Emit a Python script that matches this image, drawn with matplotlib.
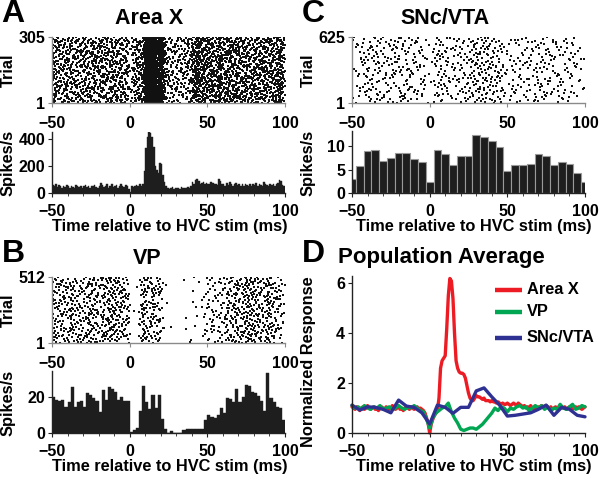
import numpy as np
import matplotlib
matplotlib.use('Agg')
import matplotlib.pyplot as plt
from matplotlib.lines import Line2D
from matplotlib.ticker import MultipleLocator

plt.rcParams['font.family'] = ['Liberation Sans', 'DejaVu Sans']
plt.rcParams['font.weight'] = 'bold'
plt.rcParams['axes.labelweight'] = 'bold'

# ---------------- data ----------------
# Panel A: Area X PSTH, 1 ms bins from -50 to 100 ms (spikes/s)
areax_rate = [
    60, 55, 65, 45, 60, 50, 40, 55, 45, 60,
    50, 35, 55, 45, 40, 60, 55, 45, 50, 40,
    55, 60, 45, 50, 40, 55, 50, 60, 45, 40,
    55, 75, 60, 45, 50, 65, 40, 55, 70, 45,
    50, 60, 40, 55, 65, 50, 45, 60, 55, 30,
    5, 50, 45, 55, 60, 50, 65, 55, 70,
    160, 330, 410, 450, 445, 410, 340, 200, 170, 150,
    220, 215, 130, 80, 55, 40, 30, 35, 45, 30,
    35, 40, 35, 30, 45, 35, 40, 35, 45, 40,
    50, 80, 65, 95, 100, 90, 70, 75, 80, 70,
    75, 65, 70, 80, 75, 65, 70, 60, 100, 90,
    65, 70, 55, 75, 60, 80, 70, 55, 65, 75,
    60, 70, 50, 65, 55, 70, 60, 50, 65, 55,
    70, 60, 75, 50, 65, 60, 55, 80, 70, 60,
    55, 65, 60, 70, 55, 65, 75, 95, 90, 60, 55,
]
areax_binw = 1
areax_trials = 305

# Panel B: VP PSTH, 2 ms bins from -50 to 100 ms
vp_rate = [
    20, 18.5, 18, 18.5, 14.5, 17, 25.5, 14.5, 17.5, 18,
    14.5, 22.5, 21, 19.5, 18, 11.5, 24, 18.5, 25.5, 24.5,
    23, 18.5, 20, 18, 18,
    0.5, 1.5, 3, 12, 26, 17, 13.5, 21, 14, 21, 8,
    2, 0, 1, 0, 0, 0, 1.5, 2, 2.5, 2.5, 2, 2, 2, 7,
    10, 9, 8.5, 10, 14, 11, 19.5, 19, 17.5, 24.5,
    17, 20, 26.5, 26, 23, 22, 20.5, 18, 12, 33.5,
    19.5, 17.5, 14.5, 14, 7,
]
vp_binw = 2
vp_trials = 512

# Panel C: SNc/VTA PSTH, 5 ms bins centred on -50 ... 100 ms
snc_rate = [3.0, 5.7, 8.9, 9.1, 6.9, 7.5, 8.6, 8.6, 7.2, 6.6,
            2.4, 9.1, 8.2, 6.0, 7.9, 7.9, 12.4, 12.0, 11.1, 9.9,
            4.7, 6.0, 6.0, 6.2, 8.2, 7.9, 6.0, 6.5, 6.2, 4.3, 2.3]
snc_binw = 5
snc_trials = 625

# Panel D: population average (normalized response)
pop_areax = [
    1.05, 1.0, 0.95, 1.05, 1.0, 0.9, 1.0, 1.05, 0.95, 1.0,
    1.1, 1.0, 0.95, 1.0, 1.05, 0.95, 1.0, 0.9, 1.0, 1.05,
    1.0, 0.95, 1.05, 1.0, 0.95, 1.0, 1.1, 1.0, 0.95, 1.0,
    1.05, 0.95, 1.0, 0.9, 1.0, 1.05, 1.0, 0.95, 1.05, 1.0,
    0.95, 1.0, 1.05, 0.95, 1.0, 0.95, 0.9, 0.8, 0.6, 0.4,
    0.0, 0.35, 0.55, 0.7, 0.8, 0.9, 1.4, 2.6, 2.9, 3.0,
    3.1, 4.2, 5.5, 6.2, 6.1, 5.4, 4.0, 2.9, 2.6, 2.45,
    2.4, 2.4, 2.35, 2.2, 1.9, 1.6, 1.4, 1.3, 1.3, 1.4,
    1.5, 1.45, 1.45, 1.4, 1.35, 1.4, 1.3, 1.3, 1.3, 1.25,
    1.3, 1.25, 1.25, 1.2, 1.25, 1.2, 1.15, 1.2, 1.15, 1.15,
    1.2, 1.15, 1.1, 1.15, 1.2, 1.15, 1.1, 1.2, 1.15, 1.1,
    1.05, 1.1, 1.0, 1.05, 1.0, 1.1, 1.0, 0.95, 1.05, 1.0,
    1.05, 1.0, 1.1, 1.05, 1.0, 1.1, 1.05, 1.0, 1.05, 0.95,
    1.0, 1.05, 1.0, 0.95, 1.0, 1.05, 1.0, 1.05, 0.95, 1.0,
    1.05, 1.0, 0.95, 1.0, 1.05, 1.0, 1.05, 1.0, 0.95, 1.0,
    1.05,
]
pop_areax_step = 1
pop_vp = [
    1.1, 1.0, 1.05, 0.95, 1.1, 1.0, 0.95, 1.05, 1.0, 1.1,
    0.95, 1.0, 1.05, 0.95, 1.0, 1.1, 1.0, 0.95, 1.05, 1.0,
    1.1, 1.0, 0.9, 0.85, 0.55,
    0.2, 0.6, 0.8, 0.9, 1.0, 1.05, 1.2, 0.85, 0.6, 0.4,
    0.15, 0.1, 0.15, 0.2, 0.2, 0.15, 0.25, 0.35, 0.5, 0.65,
    0.8, 1.0, 0.9, 1.05, 1.0, 0.85, 1.0, 0.95, 1.05, 1.1,
    1.0, 1.05, 0.9, 1.0, 1.1, 1.0, 1.1, 0.95, 1.05, 0.9,
    1.0, 0.95, 1.15, 1.0, 0.95, 1.05, 1.15, 0.95, 1.0, 1.1,
    1.05,
]
pop_vp_step = 2
pop_snc = [1.12, 0.92, 1.05, 1.03, 0.95, 0.81, 1.32, 1.08, 1.03, 0.81,
           0.36, 1.12, 1.03, 0.79, 1.03, 1.03, 1.69, 1.81, 1.45, 1.12,
           0.68, 0.71, 0.76, 0.81, 0.95, 1.12, 0.71, 1.03, 0.95, 0.71, 0.65]
pop_snc_step = 5

series_names = ['Area X', 'VP', 'SNc/VTA']
series_colors = ['#ed1c24', '#00a651', '#2e3192']

xticks = [-50, 0, 50, 100]
XMIN, XMAX = -50, 100

# ---------------- layout helpers ----------------
W, H = 600, 480
fig = plt.figure(figsize=(W / 100, H / 100), dpi=100)


def add_ax(l, t, r, b):
    return fig.add_axes([l / W, 1 - b / H, (r - l) / W, (b - t) / H])


def ftext(x, y, s, **kw):
    kw.setdefault('ha', 'center')
    kw.setdefault('va', 'center')
    return fig.text(x / W, 1 - y / H, s, **kw)


TICK_FS = 11.5
LBL_FS = 11.8


def style_axes(ax, spine_color, minor=True, xpad=5):
    for s in ('top', 'right'):
        ax.spines[s].set_visible(False)
    for s in ('left', 'bottom'):
        ax.spines[s].set_color(spine_color)
        ax.spines[s].set_linewidth(1.0)
    ax.tick_params(axis='both', which='major', direction='out', length=3,
                   width=0.8, color=spine_color, labelsize=TICK_FS, pad=2)
    ax.tick_params(axis='x', which='major', pad=xpad)
    ax.tick_params(axis='both', which='minor', direction='out', length=2,
                   width=0.6, color=spine_color)
    ax.set_xlim(XMIN, XMAX)
    ax.set_xticks(xticks)
    if minor:
        ax.xaxis.set_minor_locator(MultipleLocator(10))
    for lab in ax.get_xticklabels() + ax.get_yticklabels():
        lab.set_fontweight('bold')


def halton(k, base):
    f, r = 1.0, 0.0
    while k > 0:
        f /= base
        r += f * (k % base)
        k //= base
    return r


def raster_points(lefts, width, rates, ntrials):
    """Spike dots: low-discrepancy (Halton) points over the raster area,
    thinned so that the local density follows the PSTH (rate * bin * trials)."""
    lefts = np.asarray(lefts, float)
    rates = np.asarray(rates, float)
    rmax = rates.max()
    expected = (rates * width / 1000.0 * ntrials).sum()
    span = lefts[-1] + width - lefts[0]
    covered = len(rates) * width
    n_cand = int(expected * rmax / rates.mean() * span / covered)
    xs, ys = [], []
    for k in range(500, 500 + n_cand):
        x = lefts[0] + span * halton(k, 2)
        y = 1 + (ntrials - 1) * halton(k, 3)
        w = halton(k, 5)
        i = min(int((x - lefts[0]) // width), len(rates) - 1)
        if w * rmax < rates[i]:
            xs.append(x)
            ys.append(y)
    xs = np.array(xs)
    ys = np.array(ys)
    keep = (xs >= XMIN) & (xs <= XMAX)
    return xs[keep], ys[keep]


def raster(ax, lefts, width, rates, ntrials):
    xs, ys = raster_points(lefts, width, rates, ntrials)
    ax.scatter(xs, ys, s=0.65, marker='s', color='#111111', linewidths=0)
    style_axes(ax, '#8a8a8a', minor=False, xpad=6)
    ax.set_ylim(1, ntrials)
    ax.set_yticks([1, ntrials])


BAR_C = '#1e1e1e'

# ---------------- Panel A ----------------
a_lefts = np.arange(XMIN, XMAX, areax_binw)
axAr = add_ax(52, 37, 285, 103)
raster(axAr, a_lefts, areax_binw, areax_rate, areax_trials)
axAh = add_ax(52, 132, 285, 193)
axAh.bar(a_lefts, areax_rate, width=areax_binw, align='edge', color=BAR_C,
         edgecolor=BAR_C, linewidth=0.3)
style_axes(axAh, '#222222')
axAh.set_ylim(0, 450)
axAh.set_yticks([0, 200, 400])

# ---------------- Panel B ----------------
b_lefts = np.arange(XMIN, XMAX, vp_binw)
axBr = add_ax(52, 277, 285, 343)
raster(axBr, b_lefts, vp_binw, vp_rate, vp_trials)
axBh = add_ax(52, 371, 285, 433)
axBh.bar(b_lefts, vp_rate, width=vp_binw, align='edge', color=BAR_C,
         edgecolor=BAR_C, linewidth=0.3)
style_axes(axBh, '#222222')
axBh.set_ylim(0, 34.5)
axBh.set_yticks([0, 20])

# ---------------- Panel C ----------------
c_centers = np.arange(XMIN, XMAX + 1, snc_binw)
axCr = add_ax(352, 37, 585, 103)
raster(axCr, c_centers - snc_binw / 2, snc_binw, snc_rate, snc_trials)
axCh = add_ax(352, 131, 585, 193)
axCh.bar(c_centers, snc_rate, width=snc_binw, align='center', color=BAR_C,
         edgecolor='#9a9a9a', linewidth=0.8)
style_axes(axCh, '#222222')
axCh.set_ylim(0, 13.2)
axCh.set_yticks([0, 5, 10])

# ---------------- Panel D ----------------
axD = add_ax(352, 276, 585, 433)
pop_series = [pop_areax, pop_vp, pop_snc]
pop_steps = [pop_areax_step, pop_vp_step, pop_snc_step]
for vals, step, col in zip(pop_series, pop_steps, series_colors):
    t = XMIN + step * np.arange(len(vals))
    axD.plot(t, vals, color=col, lw=2.4, solid_joinstyle='round',
             solid_capstyle='round', clip_on=False)
style_axes(axD, '#222222')
axD.set_ylim(0, 6.3)
axD.set_yticks([0, 2, 4, 6])

# legend (manual)
leg_y = [290, 312, 338]
for name, col, y in zip(series_names, series_colors, leg_y):
    fig.add_artist(Line2D([495 / W, 522 / W], [1 - y / H] * 2, color=col,
                          lw=3.2, solid_capstyle='butt'))
    ftext(527, y, name, ha='left', fontsize=11.8, fontweight='bold')

# ---------------- text ----------------
PANEL_FS = 23
ftext(13, 14, 'A', fontsize=PANEL_FS, fontweight='bold')
ftext(313, 14, 'C', fontsize=PANEL_FS, fontweight='bold')
ftext(13, 254, 'B', fontsize=PANEL_FS, fontweight='bold')
ftext(313, 254, 'D', fontsize=PANEL_FS, fontweight='bold')

TITLE_FS = 15.5
ftext(149, 19, 'Area X', fontsize=TITLE_FS, fontweight='bold')
ftext(445, 19, 'SNc/VTA', fontsize=TITLE_FS, fontweight='bold')
ftext(147, 259, 'VP', fontsize=TITLE_FS, fontweight='bold')
ftext(441, 258, 'Population Average', fontsize=16, fontweight='bold')

for x0, y0 in [(0, 0), (300, 0), (0, 240)]:
    ftext(x0 + 8, y0 + 70, 'Trial', rotation=90, fontsize=LBL_FS, fontweight='bold')
    ftext(x0 + 8, y0 + 163, 'Spikes/s', rotation=90, fontsize=LBL_FS, fontweight='bold')
ftext(309, 362, 'Normalized Response', rotation=90, fontsize=LBL_FS, fontweight='bold')

xlab = 'Time relative to HVC stim (ms)'
for x, y in [(170, 226), (474, 226), (170, 466), (474, 466)]:
    ftext(x, y, xlab, fontsize=LBL_FS, fontweight='bold')

fig.savefig('out.png', dpi=100)
